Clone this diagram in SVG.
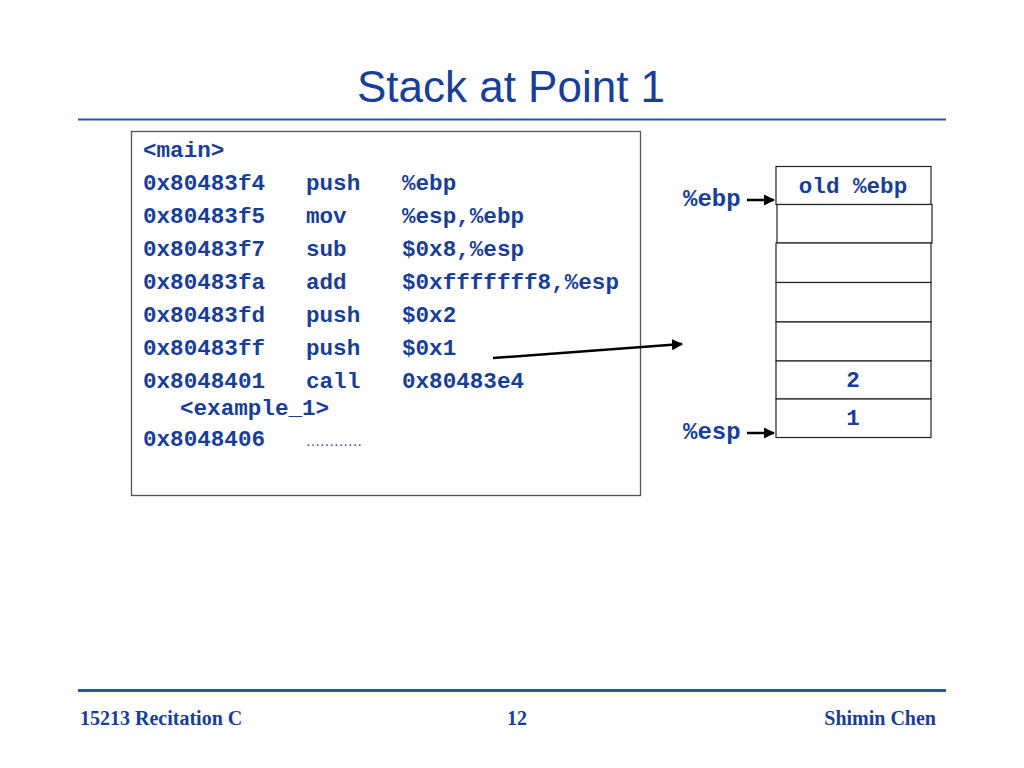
<svg xmlns="http://www.w3.org/2000/svg" width="1024" height="768" viewBox="0 0 1024 768">
<defs>
<style>
.code{font-family:"Liberation Mono","Courier New",monospace;font-weight:bold;font-size:22.6px;fill:#183e98;}
.reg{font-family:"Liberation Mono","Courier New",monospace;font-weight:bold;font-size:24px;fill:#183e98;}
.foot{font-family:"Liberation Serif","Times New Roman",serif;font-weight:bold;font-size:20px;fill:#183e98;}
.cell{fill:#ffffff;stroke:#222222;stroke-width:1.2;}
.conn{stroke:#000000;stroke-width:2.5;fill:none;}
</style>
<marker id="ah" viewBox="0 0 10 10" refX="9" refY="5" markerWidth="4.5" markerHeight="4.5" orient="auto" markerUnits="strokeWidth">
<path d="M0,0 L10,5 L0,10 z" fill="#000000"/>
</marker>
</defs>
<rect width="1024" height="768" fill="#ffffff"/>
<text x="511" y="102" text-anchor="middle" font-family="Liberation Sans, Arial, sans-serif" font-size="44" fill="#183e98">Stack at Point 1</text>
<line x1="78" y1="119.5" x2="946" y2="119.5" stroke="#2b54a3" stroke-width="2"/>
<g id="code">
<rect x="131.5" y="131.5" width="509" height="364" fill="#ffffff" stroke="#555555" stroke-width="1.3"/>
<text class="code" x="143" y="157">&lt;main&gt;</text>
<text class="code" x="143" y="190">0x80483f4</text><text class="code" x="306" y="190">push</text><text class="code" x="402" y="190">%ebp</text>
<text class="code" x="143" y="223">0x80483f5</text><text class="code" x="306" y="223">mov</text><text class="code" x="402" y="223">%esp,%ebp</text>
<text class="code" x="143" y="256">0x80483f7</text><text class="code" x="306" y="256">sub</text><text class="code" x="402" y="256">$0x8,%esp</text>
<text class="code" x="143" y="289">0x80483fa</text><text class="code" x="306" y="289">add</text><text class="code" x="402" y="289">$0xfffffff8,%esp</text>
<text class="code" x="143" y="322">0x80483fd</text><text class="code" x="306" y="322">push</text><text class="code" x="402" y="322">$0x2</text>
<text class="code" x="143" y="355">0x80483ff</text><text class="code" x="306" y="355">push</text><text class="code" x="402" y="355">$0x1</text>
<text class="code" x="143" y="388">0x8048401</text><text class="code" x="306" y="388">call</text><text class="code" x="402" y="388">0x80483e4</text>
<text class="code" x="180" y="415">&lt;example_1&gt;</text>
<text class="code" x="143" y="446">0x8048406</text>
<text x="306" y="446" font-family="Liberation Serif, Times New Roman, serif" font-size="14" fill="#183e98">…………</text>
</g>
<g id="stack">
<rect class="cell" x="776" y="166.5" width="155" height="38"/>
<rect class="cell" x="777" y="204.5" width="155" height="38.5"/>
<rect class="cell" x="776" y="243" width="155" height="39.5"/>
<rect class="cell" x="776" y="282.5" width="155" height="39.5"/>
<rect class="cell" x="776" y="322" width="155" height="39"/>
<rect class="cell" x="776" y="361" width="155" height="38"/>
<rect class="cell" x="776" y="399" width="155" height="38.5"/>
<text class="code" x="853" y="193" text-anchor="middle">old %ebp</text>
<text class="code" x="853" y="387" text-anchor="middle">2</text>
<text class="code" x="853" y="425" text-anchor="middle">1</text>
</g>
<g id="regs">
<text class="reg" x="683" y="206">%ebp</text>
<text class="reg" x="683" y="439">%esp</text>
</g>
<g id="connectors">
<line class="conn" x1="747" y1="200" x2="774" y2="200" marker-end="url(#ah)"/>
<line class="conn" x1="747" y1="433" x2="774" y2="433" marker-end="url(#ah)"/>
<line class="conn" x1="493" y1="358" x2="682" y2="344" marker-end="url(#ah)"/>
</g>
<line x1="78" y1="690.5" x2="946" y2="690.5" stroke="#2b54a3" stroke-width="3"/>
<text class="foot" x="80" y="725">15213 Recitation C</text>
<text class="foot" x="517" y="725" text-anchor="middle">12</text>
<text class="foot" x="936" y="725" text-anchor="end">Shimin Chen</text>
</svg>
